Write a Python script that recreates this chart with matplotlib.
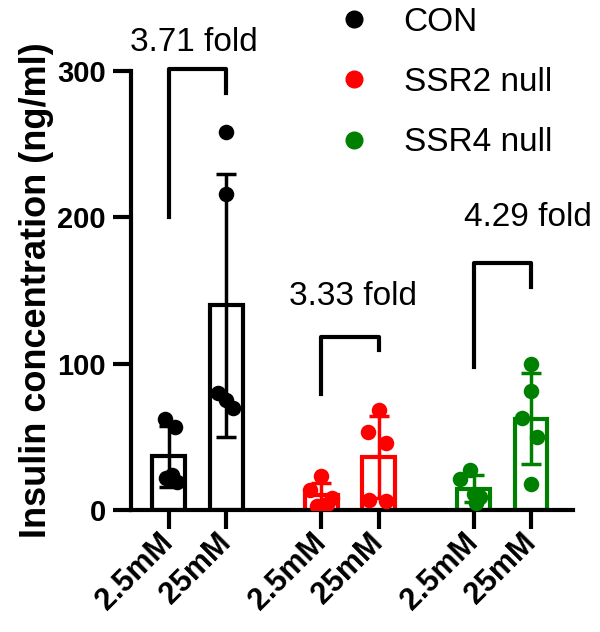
import numpy as np
import matplotlib
matplotlib.use("Agg")
import matplotlib.pyplot as plt
from matplotlib.lines import Line2D

plt.rcParams['font.family'] = ['Liberation Sans', 'DejaVu Sans']

# groups and conditions
groups = ['CON', 'SSR2 null', 'SSR4 null']
colors = ['black', 'red', 'green']
tick_labels = ['2.5mM', '25mM', '2.5mM', '25mM', '2.5mM', '25mM']
fold_labels = ['3.71 fold', '3.33 fold', '4.29 fold']

# individual points (ng/ml)
con_low = [62, 57, 22, 19, 24]
con_high = [258, 216, 80, 75, 70]
ssr2_low = [23, 14, 8, 4, 3]
ssr2_high = [68, 53, 46, 7, 6]
ssr4_low = [27, 21, 11, 9, 5]
ssr4_high = [100, 81, 63, 50, 18]

# bracket heights (left arm bottom, top, right arm bottom)
bracket_y = [[200, 301, 285], [79, 118, 109], [98, 169, 152]]

# x jitter of the dots
jitter = [[-0.07, 0.1, -0.05, 0.15, 0.05],
          [0.0, 0.0, -0.14, 0.0, 0.12],
          [0.0, -0.2, 0.19, 0.1, -0.07],
          [0.0, -0.19, 0.12, -0.17, 0.12],
          [-0.06, -0.23, 0.0, 0.12, 0.05],
          [0.0, 0.0, -0.15, 0.1, 0.0]]

series = [con_low, con_high, ssr2_low, ssr2_high, ssr4_low, ssr4_high]
xpos = [0, 1, 2.65, 3.65, 5.3, 6.3]

fig = plt.figure(figsize=(6, 6.32), dpi=100)
ax = fig.add_axes([0.218, 0.193, 0.737, 0.695])

for i, vals in enumerate(series):
    c = colors[i // 2]
    m = np.mean(vals)
    sd = np.std(vals, ddof=1)
    ax.bar(xpos[i], m, width=0.57, facecolor='white', edgecolor=c, linewidth=3, zorder=2)
    ax.errorbar(xpos[i], m, yerr=sd, color=c, elinewidth=2.5, capsize=7, capthick=2.5, zorder=3)
    ax.scatter(np.array(jitter[i]) + xpos[i], vals, s=125, color=c, zorder=4, linewidths=0)

# fold brackets
for k in range(3):
    x1, x2 = xpos[2 * k], xpos[2 * k + 1]
    yb, yt, yr = bracket_y[k]
    ax.plot([x1, x1, x2, x2], [yb, yt, yt, yr], color='black', lw=3, clip_on=False, zorder=5)

ax.text(0.44, 319, fold_labels[0], fontsize=24, ha='center', va='center', clip_on=False)
ax.text(3.2, 146, fold_labels[1], fontsize=24, ha='center', va='center')
ax.text(6.25, 200, fold_labels[2], fontsize=24, ha='center', va='center')

ax.set_xlim(-0.66, 7.03)
ax.set_ylim(0, 300)
ax.set_yticks([0, 100, 200, 300])
ax.set_xticks(xpos)
ax.set_xticklabels(tick_labels, rotation=45, ha='right', va='center', rotation_mode='anchor',
                   fontweight='bold', fontsize=22)
for lab in ax.get_yticklabels():
    lab.set_fontweight('bold')
ax.tick_params(axis='y', labelsize=21, length=13, width=3, pad=5)
ax.tick_params(axis='x', length=14, width=3, pad=6)
for s in ['top', 'right']:
    ax.spines[s].set_visible(False)
for s in ['left', 'bottom']:
    ax.spines[s].set_linewidth(3)

ax.set_ylabel('Insulin concentration (ng/ml)', fontsize=26, fontweight='bold', labelpad=2)

handles = [Line2D([], [], marker='o', ls='', color=c, markersize=12) for c in colors]
fig.legend(handles, groups, loc='upper left', bbox_to_anchor=(0.534, 1.016), frameon=False,
           fontsize=24, handletextpad=1.0, labelspacing=0.88, handlelength=1.0, borderpad=0)

fig.savefig('out.png', dpi=100)
